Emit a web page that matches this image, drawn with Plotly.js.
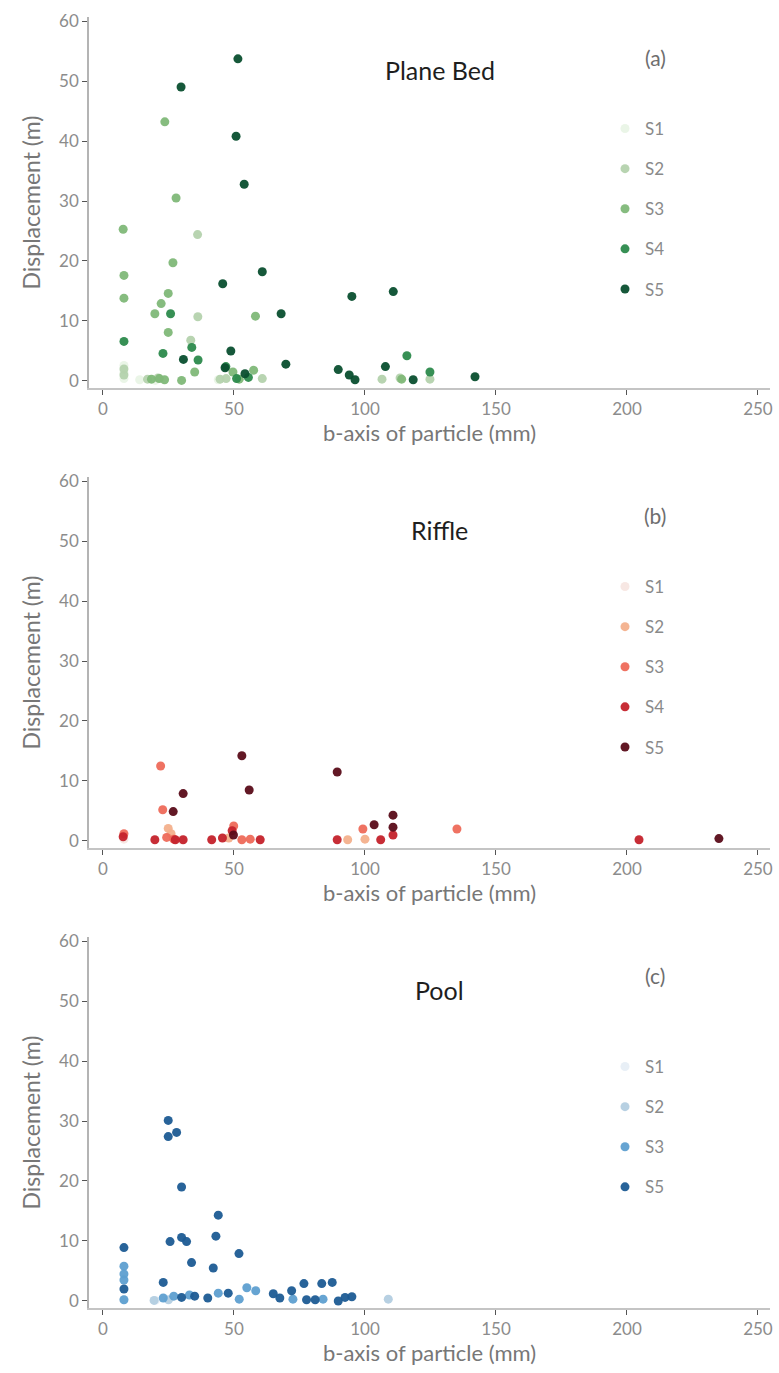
<!DOCTYPE html>
<html>
<head>
<meta charset="utf-8">
<script src="https://cdn.plot.ly/plotly-3.0.1.min.js"></script>
<style>html,body{margin:0;padding:0;background:#fff;}#chart{width:779px;height:1373px;}</style>
</head>
<body>
<div id="chart"></div>
<script>
// ---------- Data (b-axis of particle in mm, displacement in m) ----------
const seriesNames = ["S1", "S2", "S3", "S4", "S5"];
const poolSeriesNames = ["S1", "S2", "S3", "S5"];
const panelTitles = ["Plane Bed", "Riffle", "Pool"];
const panelLetters = ["(a)", "(b)", "(c)"];
const xTickVals = [0, 50, 100, 150, 200, 250];
const yTickVals = [0, 10, 20, 30, 40, 50, 60];

// Plane bed
const planeS1x = [8, 8, 8, 14, 20, 44];
const planeS1y = [0.4, 1.4, 2.6, 0.2, 0.1, 0.2];
const planeS2x = [8, 8, 17, 21, 33.5, 36.1, 36.2, 44.7, 47, 60.8, 106.5, 113.4, 124.8];
const planeS2y = [1.0, 2.0, 0.3, 0.5, 6.8, 24.4, 10.7, 0.3, 0.4, 0.4, 0.3, 0.5, 0.3];
const planeS3x = [23.6, 27.9, 7.7, 26.7, 8, 8, 24.9, 22.2, 19.8, 58.2, 24.9, 35, 57.5, 18.5, 21.5, 23.5, 30, 49.6, 52, 114];
const planeS3y = [43.2, 30.5, 25.3, 19.7, 17.6, 13.8, 14.6, 12.9, 11.2, 10.8, 8.1, 1.5, 1.8, 0.3, 0.4, 0.2, 0.1, 1.5, 0.3, 0.3];
const planeS4x = [25.8, 8, 33.9, 22.9, 36.3, 46.9, 51, 55.5, 116, 124.8];
const planeS4y = [11.2, 6.6, 5.6, 4.6, 3.5, 2.4, 0.4, 0.6, 4.2, 1.5];
const planeS5x = [51.5, 29.8, 50.8, 53.9, 45.7, 60.8, 95, 110.8, 68, 30.7, 48.8, 69.8, 89.8, 94, 96.2, 107.8, 54.2, 118.4, 142, 46.6];
const planeS5y = [53.7, 49, 40.8, 32.8, 16.2, 18.2, 14.1, 14.9, 11.2, 3.6, 5.0, 2.8, 1.9, 1.0, 0.2, 2.4, 1.2, 0.2, 0.7, 2.2];

// Riffle
const riffleS1x = [8, 30, 60];
const riffleS1y = [0.3, 0.2, 0.2];
const riffleS2x = [24.9, 93.4, 100, 26, 48];
const riffleS2y = [2.1, 0.2, 0.3, 1.2, 0.5];
const riffleS3x = [22, 22.8, 24.3, 49.9, 53, 56.2, 99.2, 135.1, 8, 27];
const riffleS3y = [12.5, 5.2, 0.6, 2.5, 0.2, 0.3, 2.0, 2.0, 1.2, 0.3];
const riffleS4x = [7.7, 19.8, 27.6, 30.6, 41.5, 45.6, 49.3, 60, 89.4, 106, 110.7, 204.6];
const riffleS4y = [0.7, 0.2, 0.2, 0.2, 0.2, 0.5, 1.7, 0.2, 0.2, 0.2, 1.0, 0.2];
const riffleS5x = [53, 55.8, 30.6, 26.8, 89.4, 103.5, 110.7, 110.7, 49.8, 235.1];
const riffleS5y = [14.2, 8.5, 7.9, 4.9, 11.5, 2.7, 4.3, 2.3, 1.0, 0.4];

// Pool
const poolS1x = [8, 20];
const poolS1y = [0.2, 0.1];
const poolS2x = [19.5, 108.9, 25];
const poolS2y = [0.1, 0.3, 0.2];
const poolS3x = [8, 8, 8, 8, 23, 27, 33, 44, 52, 54.9, 58.3, 72.5, 84];
const poolS3y = [5.8, 4.5, 3.5, 0.2, 0.5, 0.8, 1.0, 1.3, 0.3, 2.2, 1.7, 0.3, 0.3];
const poolS5x = [24.9, 24.9, 28.1, 30, 25.6, 30, 31.9, 44, 43.1, 33.8, 42.1, 51.9, 8, 8, 23, 30, 35, 40, 47.8, 65, 67.5, 72, 76.7, 77.7, 81, 83.5, 87.5, 89.8, 92.4, 95];
const poolS5y = [30.1, 27.4, 28.1, 19, 9.9, 10.6, 9.9, 14.3, 10.8, 6.4, 5.5, 7.9, 8.9, 2.0, 3.1, 0.6, 0.8, 0.5, 1.3, 1.2, 0.5, 1.7, 2.9, 0.2, 0.2, 2.9, 3.1, 0.0, 0.6, 0.7];

// ---------- Styles ----------
const greens = ["#e9f4e6", "#b4d2ad", "#80b878", "#2c8a4c", "#0a4f2f"];
const reds = ["#f7e6e1", "#f3b08c", "#ee6a5a", "#c4222b", "#5a0c19"];
const blues = ["#e7eef6", "#b3cde0", "#5e9fd0", "#1c5b93"];

const FONT = "Lato, 'Open Sans', sans-serif";

const panels = [
  {names: seriesNames, xs: [planeS1x, planeS2x, planeS3x, planeS4x, planeS5x], ys: [planeS1y, planeS2y, planeS3y, planeS4y, planeS5y], colors: greens},
  {names: seriesNames, xs: [riffleS1x, riffleS2x, riffleS3x, riffleS4x, riffleS5x], ys: [riffleS1y, riffleS2y, riffleS3y, riffleS4y, riffleS5y], colors: reds},
  {names: poolSeriesNames, xs: [poolS1x, poolS2x, poolS3x, poolS5x], ys: [poolS1y, poolS2y, poolS3y, poolS5y], colors: blues}
];

const traces = [];
panels.forEach((p, pi) => {
  const sfx = pi === 0 ? "" : String(pi + 1);
  p.names.forEach((nm, si) => {
    traces.push({
      type: "scatter", mode: "markers",
      x: p.xs[si], y: p.ys[si], name: nm,
      xaxis: "x" + sfx, yaxis: "y" + sfx,
      legend: "legend" + sfx,
      legendgroup: "p" + pi + nm,
      marker: {color: p.colors[si], size: 9, opacity: 0.95},
      hoverinfo: "x+y+name"
    });
  });
});

// panel geometry in pixels
const W = 779, H = 1373;
const panelTop = [17, 477, 937];
const panelBot = [388, 848, 1308];
const xLeft = 89, xRight = 770;

const layout = {
  width: W, height: H,
  margin: {l: 0, r: 0, t: 0, b: 0},
  paper_bgcolor: "#ffffff", plot_bgcolor: "#ffffff",
  font: {family: FONT, color: "#7a7a7a"},
  annotations: []
};

panels.forEach((p, pi) => {
  const sfx = pi === 0 ? "" : String(pi + 1);
  layout["xaxis" + sfx] = {
    domain: [xLeft / W, xRight / W],
    anchor: "y" + sfx,
    range: [-5.34, 254.6],
    tickvals: xTickVals,
    showgrid: false, zeroline: false,
    showline: true, linecolor: "#c4c4c4", linewidth: 2,
    ticks: "outside", ticklen: 5, tickcolor: "#555", tickwidth: 1,
    tickfont: {family: FONT, size: 17, color: "#8c8c8c"},
    title: {text: "b-axis of particle (mm)", font: {family: FONT, size: 22, color: "#777"}, standoff: 2}
  };
  layout["yaxis" + sfx] = {
    domain: [1 - panelBot[pi] / H, 1 - panelTop[pi] / H],
    anchor: "x" + sfx,
    range: [-1.17, 60.67],
    tickvals: yTickVals,
    showgrid: false, zeroline: false,
    showline: true, linecolor: "#b4b4b4", linewidth: 1.5,
    ticks: "outside", ticklen: 5, tickcolor: "#555", tickwidth: 1,
    tickfont: {family: FONT, size: 17, color: "#8c8c8c"},
    title: {text: "Displacement (m)", font: {family: FONT, size: 23, color: "#777"}, standoff: 12}
  };
  const legTop = [111, 569, 1049][pi];
  layout["legend" + sfx] = {
    x: 605 / W, xanchor: "left",
    y: 1 - legTop / H, yanchor: "top",
    bgcolor: "rgba(255,255,255,0)",
    font: {family: FONT, size: 17, color: "#8a8a8a"},
    tracegroupgap: 15,
    itemsizing: "trace"
  };
  layout.annotations.push({
    xref: "paper", yref: "paper", x: 440 / W, y: 1 - [70, 530, 990][pi] / H,
    text: panelTitles[pi], showarrow: false, xanchor: "center", yanchor: "middle",
    font: {family: FONT, size: 25, color: "#1e1e1e"}
  });
  layout.annotations.push({
    xref: "paper", yref: "paper", x: 655 / W, y: 1 - [57, 515, 975][pi] / H,
    text: panelLetters[pi], showarrow: false, xanchor: "center", yanchor: "middle",
    font: {family: FONT, size: 21, color: "#6e6e6e"}
  });
});

Plotly.newPlot("chart", traces, layout, {displayModeBar: false, responsive: false});
</script>
</body>
</html>
